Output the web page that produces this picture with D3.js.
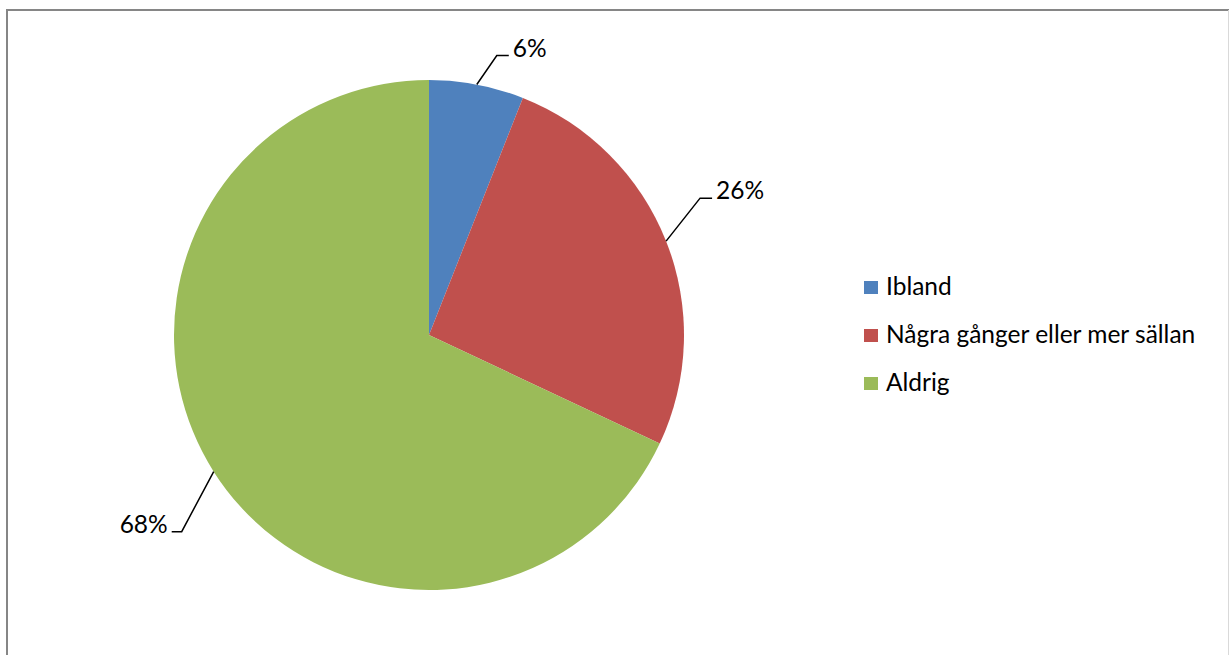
<!DOCTYPE html>
<html>
<head>
<meta charset="utf-8">
<script src="https://cdn.jsdelivr.net/npm/d3@7"></script>
<style>
  body { margin: 0; background: #fff; }
  svg { display: block; font-family: Lato, "Open Sans", sans-serif; }
</style>
</head>
<body>
<script>
const categories = ["Ibland", "Några gånger eller mer sällan", "Aldrig"];
const values = [6, 26, 68];
const colors = ["#4F81BD", "#C0504D", "#9BBB59"];
// where the label elbow sits, relative to the leader start on the arc
const labelOffsets = [[20, -29], [34, -43], [-32, 60]];

const width = 1229,
  height = 655,
  cx = 429,
  cy = 335,
  radius = 255,
  fontSize = 24.5;

const svg = d3
  .select("body")
  .append("svg")
  .attr("width", width)
  .attr("height", height);

// chart frame
svg
  .append("path")
  .attr("d", "M7,660 V10 H1229")
  .attr("fill", "none")
  .attr("stroke", "#868686")
  .attr("stroke-width", 2);
svg
  .append("line")
  .attr("x1", 1228.5)
  .attr("x2", 1228.5)
  .attr("y1", 10)
  .attr("y2", 660)
  .attr("stroke", "#d9d9d9")
  .attr("stroke-width", 1);

const total = d3.sum(values);
const pie = d3.pie().sort(null).value((d) => d);
const arcs = pie(values);
const arc = d3.arc().innerRadius(0).outerRadius(radius);

const g = svg.append("g").attr("transform", `translate(${cx},${cy})`);

g.selectAll("path")
  .data(arcs)
  .join("path")
  .attr("d", arc)
  .attr("fill", (d, i) => colors[i]);

// leader lines and labels
const labels = arcs.map((d, i) => {
  const a = (d.startAngle + d.endAngle) / 2;
  const x0 = radius * Math.sin(a),
    y0 = -radius * Math.cos(a);
  const [dx, dy] = labelOffsets[i];
  const x1 = x0 + dx,
    y1 = y0 + dy;
  const right = dx > 0;
  const x2 = x1 + (right ? 12 : -10);
  return { i, x0, y0, x1, y1, x2, right, pct: Math.round((values[i] / total) * 100) + "%" };
});

g.selectAll("polyline")
  .data(labels)
  .join("polyline")
  .attr("points", (d) => `${d.x0},${d.y0} ${d.x1},${d.y1} ${d.x2},${d.y1}`)
  .attr("fill", "none")
  .attr("stroke", "#000")
  .attr("stroke-width", 1.5);

g.selectAll("text.lbl")
  .data(labels)
  .join("text")
  .attr("class", "lbl")
  .attr("x", (d) => d.x2 + (d.right ? 4 : -4))
  .attr("y", (d) => d.y1 + 1)
  .attr("text-anchor", (d) => (d.right ? "start" : "end"))
  .attr("font-size", fontSize)
  .attr("fill", "#000")
  .text((d) => d.pct);

// legend
const legend = svg
  .append("g")
  .attr("transform", "translate(864,287)")
  .selectAll("g")
  .data(categories)
  .join("g")
  .attr("transform", (d, i) => `translate(0,${i * 48})`);

legend
  .append("rect")
  .attr("x", 0)
  .attr("y", -6)
  .attr("width", 14)
  .attr("height", 13)
  .attr("fill", (d, i) => colors[i]);

legend
  .append("text")
  .attr("x", 22)
  .attr("y", 8)
  .attr("font-size", fontSize)
  .attr("fill", "#000")
  .text((d) => d);
</script>
</body>
</html>
